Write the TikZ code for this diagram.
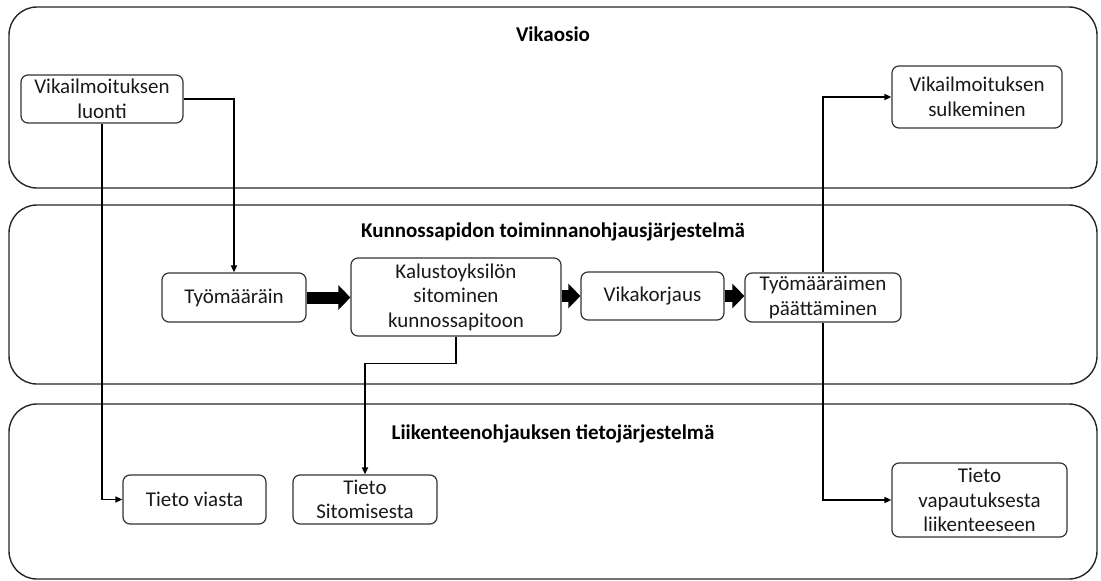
\documentclass[tikz,border=0pt]{standalone}
\usepackage{fontspec}
\setmainfont{Carlito}
\usetikzlibrary{arrows.meta}
\begin{document}
\begin{tikzpicture}[x=1pt,y=-1pt,
  container/.style={draw=black!85, line width=1.4pt, rounded corners=28pt},
  title/.style={font=\bfseries\fontsize{21}{25}\selectfont, inner sep=0pt},
  box/.style={draw=black!80, line width=1.2pt, rounded corners=7pt, align=center,
    font=\fontsize{21}{24.5}\selectfont, inner sep=0pt, text=black!90},
  conn/.style={line width=1.6pt, -{Triangle[length=7pt,width=6pt]}},
  fat/.style={line width=12pt, -{Triangle[length=12pt,width=24pt]}}]
\useasboundingbox (0,0) rectangle (1101,581);
% containers
\draw[container] (9,7) rectangle (1097,188);
\draw[container] (9,205) rectangle (1097,384);
\draw[container] (9,404) rectangle (1097,579);
\node[title] (t1) at (553,34) {Vikaosio};
\node[title] (t2) at (553,232) {Kunnossapidon toiminnanohjausjärjestelmä};
\node[title] (t3) at (553,434) {Liikenteenohjauksen tietojärjestelmä};
% boxes
\node[box, minimum width=162pt, minimum height=48pt] (luonti) at (102,99) {Vikailmoituksen\\luonti};
\node[box, minimum width=144pt, minimum height=49pt] (tyom) at (234,297.5) {Työmääräin};
\node[box, minimum width=210pt, minimum height=78pt] (kalusto) at (456,297) {Kalustoyksilön\\sitominen\\kunnossapitoon};
\node[box, minimum width=143pt, minimum height=48pt] (vika) at (652.5,296) {Vikakorjaus};
\node[box, minimum width=156pt, minimum height=49pt] (paat) at (823,297.5) {Työmääräimen\\päättäminen};
\node[box, minimum width=170pt, minimum height=62pt] (sulk) at (977,97) {Vikailmoituksen\\sulkeminen};
\node[box, minimum width=143pt, minimum height=49pt] (viasta) at (194.5,499.5) {Tieto viasta};
\node[box, minimum width=144pt, minimum height=49pt] (sito) at (365,499.5) {Tieto\\Sitomisesta};
\node[box, minimum width=175pt, minimum height=74pt] (vapa) at (979.5,500) {Tieto\\vapautuksesta\\liikenteeseen};
% thin connectors
\draw[conn] (luonti.east) -| (tyom.north);
\draw[conn] (luonti.south) |- (viasta.west);
\draw[conn] (kalusto.south) -- ([yshift=-27pt]kalusto.south) -| (sito.north);
\draw[conn] (paat.north) |- (sulk.west);
\draw[conn] (paat.south) |- (vapa.west);
% fat arrows
\draw[fat] (tyom.east) -- (tyom.east -| kalusto.west);
\draw[fat] (kalusto.east |- vika.west) -- (vika.west);
\draw[fat] (vika.east) -- (vika.east -| paat.west);
\end{tikzpicture}
\end{document}
